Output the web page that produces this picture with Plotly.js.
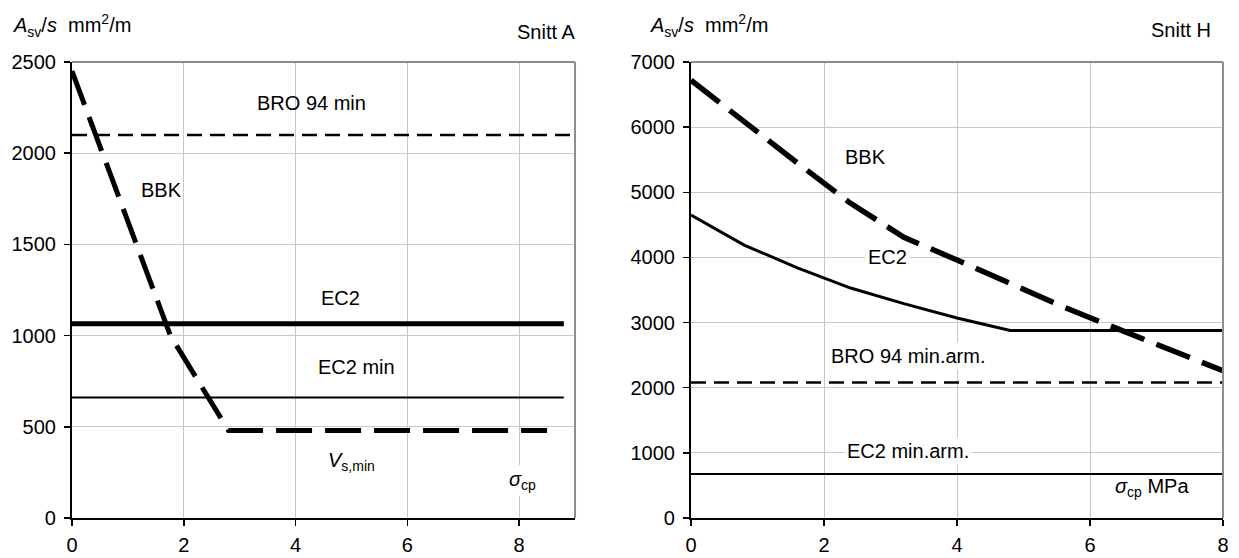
<!DOCTYPE html>
<html>
<head>
<meta charset="utf-8">
<script src="https://cdn.plot.ly/plotly-3.0.1.min.js"></script>
<style>html,body{margin:0;padding:0;background:#fff}#chart{width:1239px;height:558px}</style>
</head>
<body>
<div id="chart"></div>
<script>
// ---- Snitt A (left) ----
const aBbkX = [0, 0.88, 1.76, 2.8, 8.5];
const aBbkY = [2450, 1720, 1000, 480, 480];
const aEc2X = [0, 0.88, 8.8];
const aEc2Y = [1065, 1065, 1065];
const aEc2MinX = [0, 8.8];
const aEc2MinY = [660, 660];
const aBroX = [0, 9];
const aBroY = [2100, 2100];

// ---- Snitt H (right) ----
const hBbkX = [0, 0.8, 1.6, 2.4, 3.2, 4.0, 4.8, 5.6, 6.4, 7.2, 8.0];
const hBbkY = [6720, 6080, 5450, 4830, 4310, 3960, 3600, 3240, 2910, 2580, 2260];
const hEc2X = [0, 0.8, 1.6, 2.4, 3.2, 4.0, 4.8, 8.0];
const hEc2Y = [4650, 4190, 3840, 3530, 3290, 3070, 2880, 2880];
const hBroX = [0, 8];
const hBroY = [2080, 2080];
const hEc2MinX = [0, 8];
const hEc2MinY = [675, 675];

const xTicks = [0, 2, 4, 6, 8];
const aYTicks = [0, 500, 1000, 1500, 2000, 2500];
const hYTicks = [0, 1000, 2000, 3000, 4000, 5000, 6000, 7000];

const FONT = 'Liberation Sans, Arial, sans-serif';
const BBK_DASH = '36px,13px';
const BRO_DASH = '15px,8px';

function tr(x, y, ax, width, dash) {
  return {x: x, y: y, xaxis: ax[0], yaxis: ax[1], type: 'scatter', mode: 'lines',
          line: {color: '#000', width: width, dash: dash || 'solid'}, hoverinfo: 'skip', showlegend: false};
}
const L = ['x', 'y'], R = ['x2', 'y2'];
const data = [
  tr(aBroX, aBroY, L, 2.5, BRO_DASH),
  tr(aEc2MinX, aEc2MinY, L, 2),
  tr(aEc2X, aEc2Y, L, 5),
  tr(aBbkX, aBbkY, L, 5, BBK_DASH),
  tr(hBroX, hBroY, R, 2.5, BRO_DASH),
  tr(hEc2MinX, hEc2MinY, R, 2),
  tr(hEc2X, hEc2Y, R, 3),
  tr(hBbkX, hBbkY, R, 5.5, BBK_DASH)
];

function xAx(domain, anchor) {
  return {domain: domain, anchor: anchor, tickvals: xTicks, ticktext: xTicks.map(String),
    showgrid: true, gridcolor: '#c8c8c8', gridwidth: 1, zeroline: false,
    showline: true, linecolor: '#000', linewidth: 2, ticks: 'outside', ticklen: 6, tickcolor: '#000', tickwidth: 1.5,
    ticklabelstandoff: 2,
    tickfont: {family: FONT, size: 20, color: '#000'}, fixedrange: true};
}
function yAx(domain, anchor, ticks, range) {
  return {domain: domain, anchor: anchor, range: range, tickvals: ticks, ticktext: ticks.map(String),
    showgrid: true, gridcolor: '#c8c8c8', gridwidth: 1, zeroline: false,
    showline: true, linecolor: '#000', linewidth: 2, ticks: 'outside', ticklen: 6, tickcolor: '#000', tickwidth: 1.5,
    ticklabelstandoff: 4,
    tickfont: {family: FONT, size: 20, color: '#000'}, fixedrange: true};
}
const yDom = [0.0717, 0.8889];
const xa = xAx([0.0581, 0.4641], 'y'); xa.range = [0, 9];
const xa2 = xAx([0.5577, 0.9871], 'y2'); xa2.range = [0, 8];

function lab(text, x, y, ax, bg) {
  return {text: text, x: x, y: y, xref: ax[0], yref: ax[1], showarrow: false,
    font: {family: FONT, size: 20, color: '#000'}, bgcolor: bg ? '#fff' : 'rgba(0,0,0,0)', borderpad: 2};
}
function plab(text, x, y, xanchor) {
  return {text: text, x: x, y: y, xref: 'paper', yref: 'paper', showarrow: false, xanchor: xanchor || 'center',
    yanchor: 'middle', font: {family: FONT, size: 20, color: '#000'}};
}
const yTitle = '<i>A</i><sub>sv</sub>/<i>s</i>  mm<sup>2</sup>/m';
const annotations = [
  plab(yTitle, 11 / 1239, 1 - 25 / 558, 'left'),
  plab(yTitle, 648 / 1239, 1 - 25 / 558, 'left'),
  plab('Snitt A', 546 / 1239, 1 - 32 / 558),
  plab('Snitt H', 1181 / 1239, 1 - 30 / 558),
  lab('BRO 94 min', 4.28, 2275, L),
  lab('BBK', 1.61, 1798, L),
  lab('EC2', 4.8, 1206, L),
  lab('EC2 min', 5.09, 828, L),
  lab('<i>V</i><sub>s,min</sub>', 5.0, 307, L),
  lab('<i>σ</i><sub>cp</sub>', 8.06, 208, L, true),
  lab('BBK', 2.63, 5538, R),
  lab('EC2', 2.95, 4000, R, true),
  lab('BRO 94 min.arm.', 3.26, 2492, R, true),
  lab('EC2 min.arm.', 3.26, 1030, R, true),
  lab('<i>σ</i><sub>cp</sub> MPa', 6.93, 470, R)
];
function border(xr, yr) {
  return [
    {type: 'line', xref: xr, yref: yr, x0: 0, x1: 1, y0: 1, y1: 1, line: {color: '#8c8c8c', width: 2}, layer: 'above'},
    {type: 'line', xref: xr, yref: yr, x0: 1, x1: 1, y0: 0, y1: 1, line: {color: '#8c8c8c', width: 2}, layer: 'above'}
  ];
}
const layout = {
  width: 1239, height: 558, margin: {l: 0, r: 0, t: 0, b: 0},
  paper_bgcolor: '#fff', plot_bgcolor: '#fff', showlegend: false,
  font: {family: FONT, size: 20, color: '#000'},
  xaxis: xa, yaxis: yAx(yDom, 'x', aYTicks, [0, 2500]),
  xaxis2: xa2, yaxis2: yAx(yDom, 'x2', hYTicks, [0, 7000]),
  annotations: annotations,
  shapes: border('x domain', 'y domain').concat(border('x2 domain', 'y2 domain'))
};
Plotly.newPlot('chart', data, layout, {staticPlot: true, displayModeBar: false});
</script>
</body>
</html>
